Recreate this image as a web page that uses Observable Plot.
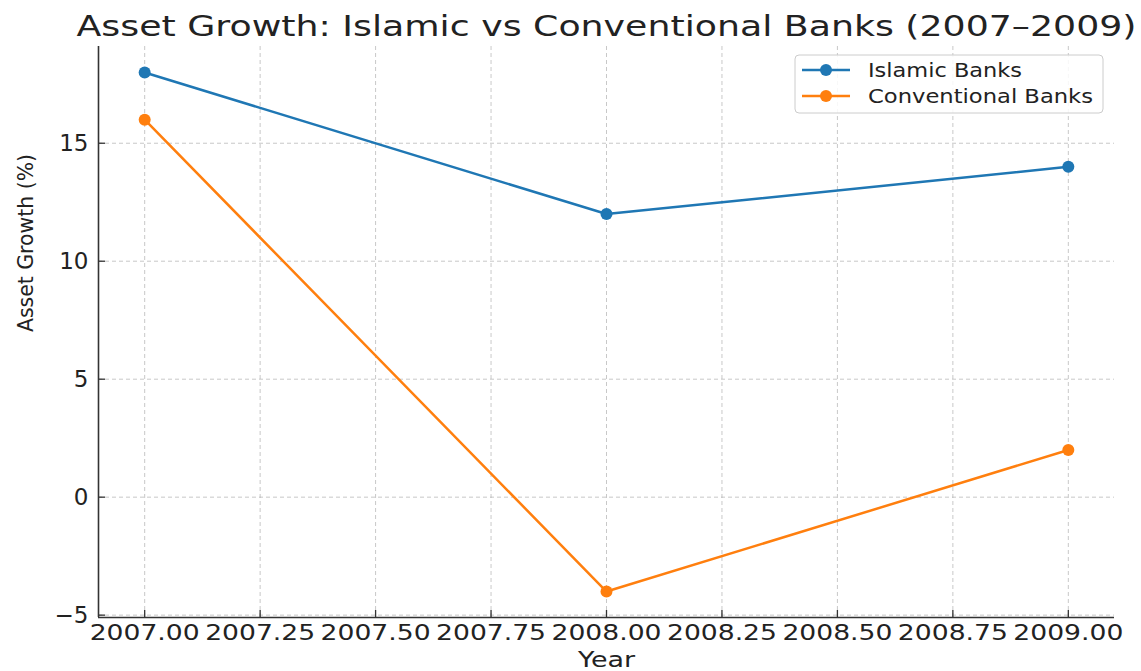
<!DOCTYPE html>
<html>
<head>
<meta charset="utf-8">
<script src="https://cdn.jsdelivr.net/npm/d3@7"></script>
<script src="https://cdn.jsdelivr.net/npm/@observablehq/plot@0.6"></script>
<style>
  html, body { margin: 0; padding: 0; background: white; overflow: hidden; }
  #wrap { position: relative; width: 1141px; height: 671px; }
  #legend { position: absolute; left: 0; top: 0; }
</style>
</head>
<body>
<div id="wrap"></div>
<script>
const years = [2007, 2008, 2009];
const islamic = [18, 12, 14];
const conventional = [16, -4, 2];
const seriesNames = ["Islamic Banks", "Conventional Banks"];
const colors = ["#1f77b4", "#ff7f0e"];
const xTicks = [2007, 2007.25, 2007.5, 2007.75, 2008, 2008.25, 2008.5, 2008.75, 2009];
const yTicks = [-5, 0, 5, 10, 15];
const titleText = "Asset Growth: Islamic vs Conventional Banks (2007–2009)";
const xLabel = "Year";
const yLabel = "Asset Growth (%)";

const data = years.flatMap((yr, i) => [
  {year: yr, value: islamic[i], series: seriesNames[0]},
  {year: yr, value: conventional[i], series: seriesNames[1]}
]);

const spine = "#333";
const gridStyle = {stroke: "#b0b0b0", strokeOpacity: 0.7, strokeDasharray: "4,3", strokeWidth: 1};

const chart = Plot.plot({
  width: 1141,
  height: 671,
  marginLeft: 98,
  marginRight: 27,
  marginTop: 46,
  marginBottom: 54,
  x: {domain: [2006.9, 2009.1]},
  y: {domain: [-5.1, 19.1]},
  color: {domain: seriesNames, range: colors},
  style: {fontFamily: "DejaVu Sans", background: "white", color: "#222"},
  marks: [
    Plot.gridX(xTicks, gridStyle),
    Plot.gridY(yTicks, gridStyle),
    Plot.axisX(xTicks, {tickFormat: d => d.toFixed(2), tickSize: 0, tickPadding: 7, fontSize: 22, label: null}),
    Plot.axisY(yTicks, {tickSize: 0, tickPadding: 10, fontSize: 23, label: null}),
    Plot.ruleX(xTicks, {insetTop: 564, stroke: spine, strokeWidth: 1.3}),
    Plot.ruleY(yTicks, {insetRight: 1009, stroke: spine, strokeWidth: 1.3}),
    Plot.ruleX([2006.9], {stroke: spine, strokeWidth: 1.6}),
    Plot.ruleY([-5.1], {stroke: spine, strokeWidth: 1.6}),
    Plot.line(data, {x: "year", y: "value", z: "series", stroke: "series", strokeWidth: 2.5}),
    Plot.dot(data, {x: "year", y: "value", fill: "series", r: 6}),
    Plot.text([titleText], {frameAnchor: "top", lineAnchor: "middle", dy: -20, fontSize: 29, fill: "#222"}),
    Plot.text([xLabel], {frameAnchor: "bottom", lineAnchor: "middle", dy: 43, fontSize: 21, fill: "#222"}),
    Plot.text([yLabel], {frameAnchor: "left", lineAnchor: "middle", dx: -73, rotate: -90, fontSize: 22, fill: "#222"})
  ]
});

document.getElementById("wrap").appendChild(chart);

const svg = d3.select(chart);
svg.selectAll("text").each(function() {
  const t = this.textContent;
  const fit = (len) => { this.setAttribute("textLength", len); this.setAttribute("lengthAdjust", "spacingAndGlyphs"); };
  if (t === titleText) fit(1060);
  else if (t === yLabel) fit(178);
  else if (t === xLabel) fit(57);
  else if (/^\d{4}\.\d\d$/.test(t)) fit(110);
});

// Legend (overlay with inline SVG)
const lg = d3.select("#wrap").append("svg")
  .attr("id", "legend").attr("width", 1141).attr("height", 671)
  .style("pointer-events", "none");
const box = lg.append("g").attr("transform", "translate(795,55)");
box.append("rect").attr("width", 308).attr("height", 58).attr("rx", 4)
  .attr("fill", "white").attr("fill-opacity", 0.85).attr("stroke", "#cccccc");
seriesNames.forEach((name, i) => {
  const g = box.append("g").attr("transform", `translate(0,${15 + i * 26})`);
  g.append("line").attr("x1", 7).attr("x2", 55).attr("y1", 0).attr("y2", 0)
    .attr("stroke", colors[i]).attr("stroke-width", 2.5);
  g.append("circle").attr("cx", 31).attr("cy", 0).attr("r", 6).attr("fill", colors[i]);
  g.append("text").attr("x", 73).attr("y", 0).attr("dy", "0.35em")
    .attr("font-family", "DejaVu Sans").attr("font-size", 20).attr("fill", "#222")
    .attr("textLength", i === 0 ? 154 : 225).attr("lengthAdjust", "spacingAndGlyphs")
    .text(name);
});
</script>
</body>
</html>
